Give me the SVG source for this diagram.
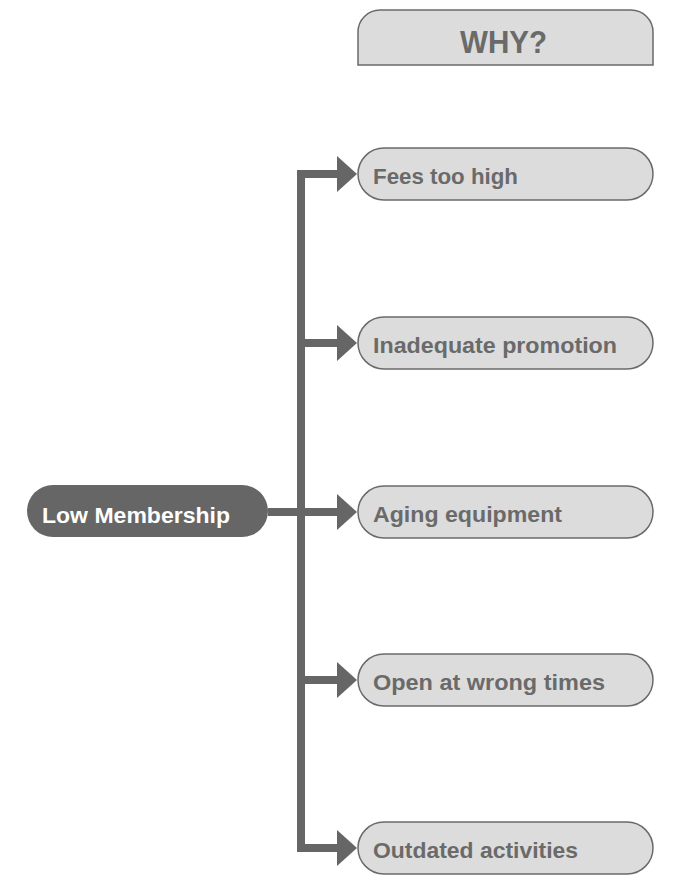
<svg xmlns="http://www.w3.org/2000/svg" width="680" height="893" viewBox="0 0 680 893">
<defs>
<style>
.box{fill:#dcdcdc;stroke:#6a6a6a;stroke-width:1.5}
.lbl{font-family:"Liberation Sans",Arial,sans-serif;font-weight:bold;font-size:22px;fill:#6a6a6a}
.wire{fill:none;stroke:#666;stroke-width:8}
.head{fill:#666}
</style>
</defs>
<rect width="680" height="893" fill="#fff"/>
<g id="header">
<path class="box" d="M358,65 V32 A22,22 0 0 1 380,10 H631 A22,22 0 0 1 653,32 V65 Z"/>
<text class="lbl" x="503.5" y="53" text-anchor="middle" font-size="32" textLength="87" lengthAdjust="spacingAndGlyphs" style="font-size:32px">WHY?</text>
</g>
<g id="connectors">
<path class="wire" d="M337,174 H301 V848 H337"/>
<path class="wire" d="M301,343 H337"/>
<path class="wire" d="M268,512 H337"/>
<path class="wire" d="M301,680 H337"/>
<polygon class="head" points="337,156 357,174 337,192"/>
<polygon class="head" points="337,325 357,343 337,361"/>
<polygon class="head" points="337,494 357,512 337,530"/>
<polygon class="head" points="337,662 357,680 337,698"/>
<polygon class="head" points="337,830 357,848 337,866"/>
</g>
<g id="root">
<rect x="27" y="485" width="241" height="52" rx="26" fill="#666"/>
<text class="lbl" x="42" y="523" textLength="188" lengthAdjust="spacingAndGlyphs" style="fill:#fff">Low Membership</text>
</g>
<g id="n1">
<rect class="box" x="358" y="148" width="295" height="52" rx="26"/>
<text class="lbl" x="373" y="184" textLength="145" lengthAdjust="spacingAndGlyphs">Fees too high</text>
</g>
<g id="n2">
<rect class="box" x="358" y="317" width="295" height="52" rx="26"/>
<text class="lbl" x="373" y="353" textLength="244" lengthAdjust="spacingAndGlyphs">Inadequate promotion</text>
</g>
<g id="n3">
<rect class="box" x="358" y="486" width="295" height="52" rx="26"/>
<text class="lbl" x="373" y="522" textLength="189" lengthAdjust="spacingAndGlyphs">Aging equipment</text>
</g>
<g id="n4">
<rect class="box" x="358" y="654" width="295" height="52" rx="26"/>
<text class="lbl" x="373" y="690" textLength="232" lengthAdjust="spacingAndGlyphs">Open at wrong times</text>
</g>
<g id="n5">
<rect class="box" x="358" y="822" width="295" height="52" rx="26"/>
<text class="lbl" x="373" y="858" textLength="205" lengthAdjust="spacingAndGlyphs">Outdated activities</text>
</g>
</svg>
